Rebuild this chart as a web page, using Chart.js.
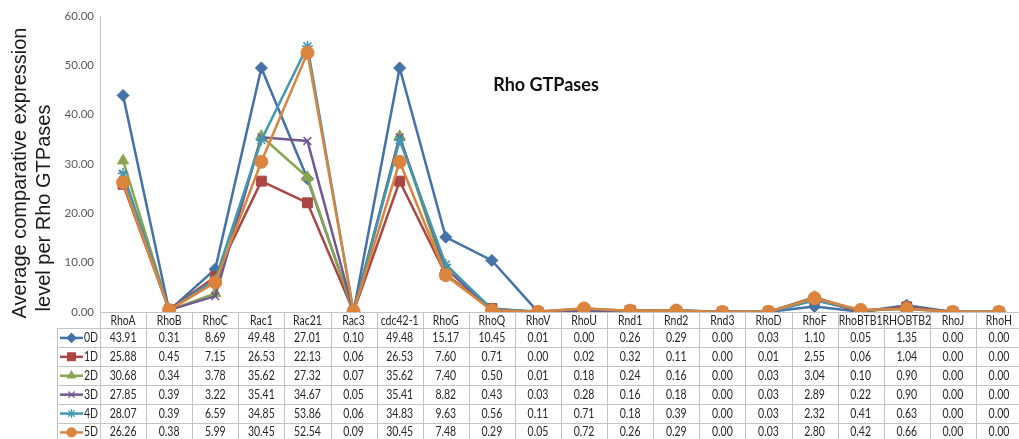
<!DOCTYPE html>
<html><head><meta charset="utf-8">
<script src="https://cdn.jsdelivr.net/npm/chart.js@4/dist/chart.umd.min.js"></script>
<style>
html,body{margin:0;padding:0;background:#fff;overflow:hidden;}
#wrap{position:relative;width:1030px;height:439px;}
</style></head>
<body><div id="wrap"><canvas id="c"></canvas></div>
<script>
const categories = ["RhoA","RhoB","RhoC","Rac1","Rac21","Rac3","cdc42-1","RhoG","RhoQ","RhoV","RhoU","Rnd1","Rnd2","Rnd3","RhoD","RhoF","RhoBTB1","RHOBTB2","RhoJ","RhoH"];
const seriesNames = ["0D","1D","2D","3D","4D","5D"];
const d0 = [43.91,0.31,8.69,49.48,27.01,0.10,49.48,15.17,10.45,0.01,0.00,0.26,0.29,0.00,0.03,1.10,0.05,1.35,0.00,0.00];
const d1 = [25.88,0.45,7.15,26.53,22.13,0.06,26.53,7.60,0.71,0.00,0.02,0.32,0.11,0.00,0.01,2.55,0.06,1.04,0.00,0.00];
const d2 = [30.68,0.34,3.78,35.62,27.32,0.07,35.62,7.40,0.50,0.01,0.18,0.24,0.16,0.00,0.03,3.04,0.10,0.90,0.00,0.00];
const d3 = [27.85,0.39,3.22,35.41,34.67,0.05,35.41,8.82,0.43,0.03,0.28,0.16,0.18,0.00,0.03,2.89,0.22,0.90,0.00,0.00];
const d4 = [28.07,0.39,6.59,34.85,53.86,0.06,34.83,9.63,0.56,0.11,0.71,0.18,0.39,0.00,0.03,2.32,0.41,0.63,0.00,0.00];
const d5 = [26.26,0.38,5.99,30.45,52.54,0.09,30.45,7.48,0.29,0.05,0.72,0.26,0.29,0.00,0.03,2.80,0.42,0.66,0.00,0.00];
const seriesValues = [d0,d1,d2,d3,d4,d5];
const yTicks = [0,10,20,30,40,50,60];
const titleText = "Rho GTPases";
const yTitle1 = "Average comparative expression";
const yTitle2 = "level per Rho GTPases";

const colors = ["#4572A7","#AA4643","#89A54E","#71588F","#4198AF","#DB843D"];
const styles = ["rectRot","rect","triangle","crossRot","star","circle"];
const radii = [6,7,6.5,5.5,5.5,6.5];

const datasets = seriesNames.map((n,i)=>({
  label:n, data:seriesValues[i],
  borderColor:colors[i], backgroundColor:colors[i],
  pointStyle:styles[i], pointRadius:radii[i], pointBorderWidth:(styles[i]==="crossRot"||styles[i]==="star")?1.5:1,
  pointBorderColor:colors[i], pointBackgroundColor:colors[i],
  borderWidth:2.5, tension:0, order:5-i
}));

const GRID = "#c4c4c4";
function narrowText(ctx, t, x, y, sx){
  ctx.save(); ctx.translate(x, y); ctx.scale(sx, 1); ctx.fillText(t, 0, 0); ctx.restore();
}
const tablePlugin = {
  id:"tbl",
  afterDraw(chart){
    const ctx = chart.ctx, x = chart.scales.x, ca = chart.chartArea;
    const W = (ca.right-ca.left)/categories.length;
    const top = ca.bottom, hdrB = 328, rowH = 18.9, legL = 57;
    const bottom = 445;
    const SX = 0.84;
    ctx.save();
    ctx.strokeStyle = GRID; ctx.lineWidth = 1;
    ctx.beginPath();
    ctx.moveTo(ca.left, top+0.5); ctx.lineTo(ca.right, top+0.5);
    for(let r=0;r<=6;r++){
      const y = Math.round(hdrB + r*rowH)+0.5;
      ctx.moveTo(legL, y); ctx.lineTo(ca.right, y);
    }
    for(let i=0;i<=categories.length;i++){
      const xx = Math.round(ca.left + i*W)+0.5;
      ctx.moveTo(xx, top); ctx.lineTo(xx, bottom);
    }
    ctx.moveTo(legL+0.5, hdrB); ctx.lineTo(legL+0.5, bottom);
    ctx.stroke();
    ctx.fillStyle = "#262626";
    ctx.font = "12.5px Lato";
    ctx.textAlign = "center"; ctx.textBaseline = "middle";
    categories.forEach((c,i)=>{ narrowText(ctx, c, x.getPixelForValue(i), (top+hdrB)/2+1, SX); });
    seriesValues.forEach((vals,r)=>{
      const cy = hdrB + r*rowH + rowH/2 + 0.5;
      ctx.fillStyle = "#262626";
      vals.forEach((v,i)=>{ narrowText(ctx, v.toFixed(2), x.getPixelForValue(i), cy, SX); });
      ctx.strokeStyle = colors[r]; ctx.lineWidth = 2.5;
      ctx.beginPath(); ctx.moveTo(60, cy); ctx.lineTo(83, cy); ctx.stroke();
      ctx.fillStyle = colors[r]; ctx.strokeStyle = colors[r]; ctx.lineWidth = 1.2;
      Chart.helpers.drawPoint(ctx, {pointStyle:styles[r], radius:styles[r]==="circle"?4.5:(styles[r]==="rect"?5.5:4.5), rotation:0, borderWidth:1.2}, 71.5, cy);
      ctx.fillStyle = "#262626";
      ctx.textAlign = "left";
      narrowText(ctx, seriesNames[r], 84, cy, SX);
      ctx.textAlign = "center";
    });
    ctx.font = "bold 18px Lato";
    ctx.fillStyle = "#111";
    ctx.fillText(titleText, 546, 85);
    ctx.font = "20px 'Liberation Sans'";
    ctx.fillStyle = "#1a1a1a";
    ctx.save(); ctx.translate(20, 173); ctx.rotate(-Math.PI/2); ctx.fillText(yTitle1, 0, 0); ctx.restore();
    ctx.save(); ctx.translate(44, 208); ctx.rotate(-Math.PI/2); ctx.fillText(yTitle2, 0, 0); ctx.restore();
    ctx.restore();
  }
};

new Chart(document.getElementById("c"), {
  type:"line",
  data:{labels:categories, datasets},
  options:{
    responsive:true, maintainAspectRatio:false, animation:false,
    layout:{padding:{top:16,bottom:127,left:0,right:2}},
    plugins:{legend:{display:false}, title:{display:false}, tooltip:{enabled:false}},
    scales:{
      x:{display:false, offset:true},
      y:{min:0,max:60,
        afterFit:s=>{s.width=100;},
        afterBuildTicks:s=>{s.ticks = yTicks.map(v=>({value:v}));},
        grid:{display:false, drawTicks:false},
        border:{display:true,color:GRID,width:1},
        ticks:{padding:6,color:"#595959",font:{family:"Lato",size:11.5},callback:v=>Number(v).toFixed(2)}
      }
    }
  },
  plugins:[tablePlugin]
});
</script></body></html>
